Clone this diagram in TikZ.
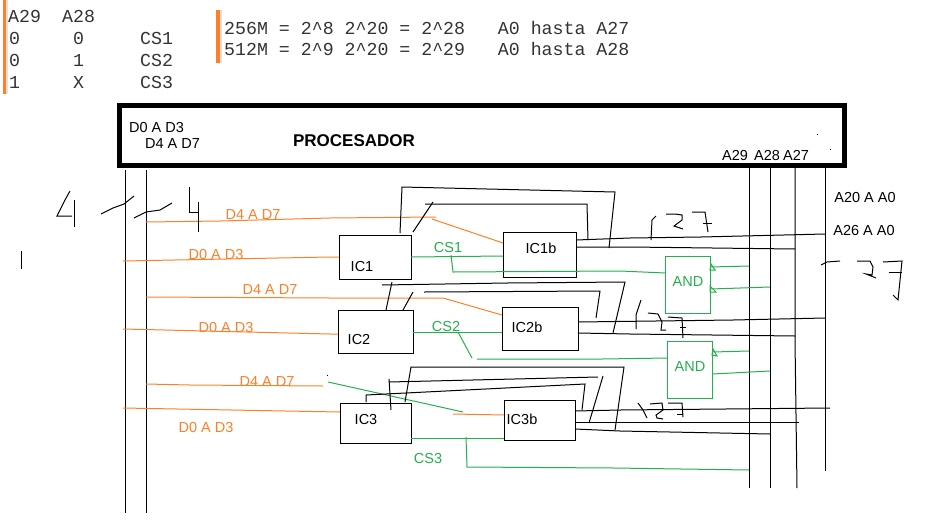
\documentclass[tikz,border=0pt]{standalone}
\usepackage{fontspec}
\setmainfont{Liberation Sans}
\setmonofont{Liberation Mono}
\definecolor{dataor}{HTML}{FF7F27}
\definecolor{csgreen}{HTML}{22B14C}
\tikzset{
  chip/.style={draw=black,line width=1pt,inner sep=0pt,outer sep=0pt},
  andgate/.style={draw=csgreen,line width=1pt,inner sep=0pt,outer sep=0pt,minimum width=45pt,minimum height=57pt},
  wire/.style={black,line width=1pt},
  dataline/.style={dataor,line width=1pt},
  csline/.style={csgreen,line width=1pt},
  sketch/.style={black,line width=1pt},
  tab/.style={inner sep=0pt,anchor=west,text=black!80,font=\fontsize{18.25}{20}\selectfont\ttfamily},
  lbl/.style={inner sep=0pt,text=black,font=\fontsize{14.5}{16}\selectfont},
  orlbl/.style={inner sep=0pt,text=dataor,font=\fontsize{14.5}{16}\selectfont},
  cslbl/.style={inner sep=0pt,text=csgreen,font=\fontsize{14.5}{16}\selectfont},
}
\begin{document}
\begin{tikzpicture}[x=1pt,y=-1pt]
    \useasboundingbox (0,0) rectangle (930,523);
    \fill [dataor] (3,0) rectangle (6,94);
    \fill [black!12] (6,0) rectangle (8,94);
    \fill [dataor] (216,10) rectangle (220,63);
    \fill [black!12] (220,10) rectangle (222,63);
    \node [tab] (h29) at (8,16) {A29};
    \node [tab] (h28) at (62,16) {A28};
    \node [tab] (r10) at (9,38) {0};
    \node [tab] (r11) at (73,38) {0};
    \node [tab] (r1c) at (140,38) {CS1};
    \node [tab] (r20) at (9,60) {0};
    \node [tab] (r21) at (73,60) {1};
    \node [tab] (r2c) at (140,60) {CS2};
    \node [tab] (r30) at (9,82) {1};
    \node [tab] (r31) at (73,82) {X};
    \node [tab] (r3c) at (140,82) {CS3};
    \node [tab] (mem256) at (224,28) {256M = 2\string^8 2\string^20 = 2\string^28~~~A0 hasta A27};
    \node [tab] (mem512) at (224,49) {512M = 2\string^9 2\string^20 = 2\string^29~~~A0 hasta A28};
    \node [draw=black,line width=5pt,inner sep=0pt,outer sep=0pt,minimum width=725pt,minimum height=60pt] (cpu) at (482,135.5) {};
    \node [lbl] (cpud0) at (156.5,128) {D0 A D3};
    \node [lbl] (cpud4) at (172.5,144) {D4 A D7};
    \node [inner sep=0pt,text=black,font=\fontsize{17}{18}\selectfont\bfseries] (cpuname) at (354,141) {PROCESADOR};
    \node [lbl] (t29) at (735,156) {A29};
    \node [lbl] (t28) at (767,156) {A28};
    \node [lbl] (t27) at (796,155) {A27};
    \node [lbl] (t20) at (865,198) {A20 A A0};
    \node [lbl] (t26) at (864,231) {A26 A A0};
    \node [chip,minimum width=72pt,minimum height=44pt] (IC1) at (375,257) {};
    \node [chip,minimum width=73pt,minimum height=45pt] (IC1b) at (539.5,254.5) {};
    \node [chip,minimum width=75pt,minimum height=43pt] (IC2) at (375.5,331.5) {};
    \node [chip,minimum width=76pt,minimum height=43pt] (IC2b) at (540,328.5) {};
    \node [chip,minimum width=71pt,minimum height=40pt] (IC3) at (375.5,423) {};
    \node [chip,minimum width=71pt,minimum height=40pt] (IC3b) at (539.5,420) {};
    \node [lbl] (IC1t) at (362,267) {IC1};
    \node [lbl] (IC1bt) at (541,248) {IC1b};
    \node [lbl] (IC2t) at (359,340) {IC2};
    \node [lbl] (IC2bt) at (527,327) {IC2b};
    \node [lbl] (IC3t) at (366,420) {IC3};
    \node [lbl] (IC3bt) at (522,419) {IC3b};
    \node [andgate] (AND1) at (688,284.5) {};
    \node [andgate] (AND2) at (690,369.5) {};
    \node [cslbl] (AND1t) at (688,282) {AND};
    \node [cslbl] (AND2t) at (690,367) {AND};
    \node [orlbl] (o1) at (253,215) {D4 A D7};
    \node [orlbl] (o2) at (216,255) {D0 A D3};
    \node [orlbl] (o3) at (270,290) {D4 A D7};
    \node [orlbl] (o4) at (226,328) {D0 A D3};
    \node [orlbl] (o5) at (267,382) {D4 A D7};
    \node [orlbl] (o6) at (206,428) {D0 A D3};
    \node [cslbl] (cs1) at (448,248) {CS1};
    \node [cslbl] (cs2) at (446,327) {CS2};
    \node [cslbl] (cs3) at (428,459) {CS3};
    \coordinate (dbusL) at (125,170);
    \coordinate (dbusR) at (146,170);
    \coordinate (bus29) at (749,168);
    \coordinate (bus28) at (770,168);
    \coordinate (bus27) at (795,168);
    \coordinate (bus20) at (825,168);
    \draw [wire] (dbusL) -- (125,513);
    \draw [wire] (dbusR) -- (146,513);
    \draw [wire] (bus29) -- (749,488);
    \draw [wire] (bus28) -- (770,488);
    \draw [wire] (bus27) -- (795,340) -- (797,488);
    \draw [wire] (bus20) -- (825,471);
    \draw [dataline] (dbusR |- 0,222) -- (220,221) -- (330,218) -- (436,217);
    \draw [dataline] (432,219) -- (IC1b.west |- 0,243);
    \draw [dataline] (123,261) -- (330,257) -- (IC1.west);
    \draw [dataline] (dbusR |- 0,297) -- (330,298) -- (443,298) -- (IC2b.west |- 0,315);
    \draw [dataline] (123,329) -- (330,334) -- (IC2.west |- 0,334);
    \draw [dataline] (dbusR |- 0,384) -- (190,385) -- (323,386);
    \draw [dataline] (123,408) -- (IC3.west |- 0,412);
    \draw [dataline] (453,414) -- (IC3b.west |- 0,415);
    \draw [csline] (IC1.east) -- (IC1b.west |- 0,256);
    \draw [csline] (451,255) -- (453,272) -- (620,271) -- (AND1.west |- 0,273);
    \draw [csline] (IC2.east |- 0,332) -- (IC2b.west |- 0,332);
    \draw [csline] (458,332) -- (472,358);
    \draw [csline] (477,359) -- (602,359) -- (AND2.west |- 0,358);
    \draw [csline] (IC3.east |- 0,438) -- (IC3b.west |- 0,438);
    \draw [csline] (466,437) -- (467,467) -- (614,468) -- (bus29 |- 0,470);
    \draw [csline] (328,382) -- (463,412);
    \fill [black] (326.5,374.5) rectangle (327.5,375.5);
    \draw [csline] (AND1.east |- 0,267) -- (bus29 |- 0,266);
    \draw [csline] (AND1.east |- 0,289) -- (bus28 |- 0,287);
    \draw [csline] (AND2.east |- 0,352) -- (bus29 |- 0,351);
    \draw [csline] (AND2.east |- 0,374) -- (bus28 |- 0,371);
    \draw [csline] (711,264) -- (715,270) -- (710,270) -- cycle;
    \draw [csline] (710,286) -- (716,292) -- (710,292) -- cycle;
    \draw [csline] (713,349) -- (717,356) -- (712,355) -- cycle;
    \draw [wire] (IC1b.east |- 0,240) -- (630,238) -- (701,237) -- (bus20 |- 0,234);
    \draw [wire] (IC1b.east |- 0,247) -- (630,247) -- (bus27 |- 0,249);
    \draw [wire] (400,233) -- (402,187) -- (615,192) -- (609,248);
    \draw [wire] (413,232) -- (433,202);
    \draw [wire] (425,204) -- (587,204) -- (588,240);
    \draw [wire] (392,282) -- (386,310);
    \draw [wire] (382,285) -- (507,283) -- (625,282) -- (613,333);
    \draw [wire] (413,292) -- (403,310);
    \draw [wire] (424,292) -- (600,291) -- (596,318);
    \draw [wire] (IC2b.east |- 0,322) -- (733,320) -- (bus20 |- 0,318);
    \draw [wire] (IC2b.east |- 0,333) -- (630,334) -- (bus27 |- 0,336);
    \draw [wire] (405,402) -- (411,367) -- (624,367) -- (615,430);
    \draw [wire] (389,379) -- (391,410);
    \draw [wire] (389,382) -- (598,377);
    \draw [wire] (603,376) -- (589,423);
    \draw [wire] (366,402) -- (366,395) -- (585,384) -- (582,410);
    \draw [wire] (IC3b.east |- 0,411) -- (620,410) -- (830,408);
    \draw [wire] (IC3b.east |- 0,422) -- (799,422);
    \draw [wire] (IC3b.east |- 0,429) -- (620,431) -- (bus28 |- 0,434);
    \draw [sketch] (70,191) -- (65,200) -- (57,216) -- (72,216);
    \draw [sketch] (74,200) -- (74,227);
    \draw [sketch] (101,214) -- (113,208) -- (124,204) -- (134,196);
    \draw [sketch] (134,218) -- (146,212) -- (160,210) -- (172,203);
    \draw [sketch] (189,187) -- (189,212) -- (198,212);
    \draw [sketch] (198,202) -- (198,232);
    \draw [sketch] (21,251) -- (21,269);
    \draw [sketch] (651,240) -- (652,220) -- (656,216);
    \draw [sketch] (666,214) -- (675,214) -- (682,215) -- (682,220) -- (674,226) -- (683,229);
    \draw [sketch] (692,212) -- (705,212) -- (708,232);
    \draw [sketch] (703,223) -- (712,223);
    \draw [sketch] (821,265) -- (827,262) -- (840,261);
    \draw [sketch] (857,261) -- (870,261) -- (873,267) -- (872,275) -- (866,274) -- (876,278);
    \draw [sketch] (883,262) -- (902,261) -- (898,300) -- (893,295);
    \draw [sketch] (889,272) -- (902,272);
    \draw [sketch] (641,300) -- (636,315) -- (636,329);
    \draw [sketch] (648,313) -- (658,314) -- (662,322) -- (661,330) -- (666,330);
    \draw [sketch] (668,317) -- (682,318) -- (683,338);
    \draw [sketch] (680,327) -- (686,327);
    \draw [sketch] (638,403) -- (643,410) -- (647,418);
    \draw [sketch] (650,404) -- (662,403) -- (663,410) -- (656,415) -- (657,418) -- (663,419);
    \draw [sketch] (668,403) -- (682,403) -- (683,417);
    \draw [sketch] (677,414) -- (683,414);
    \fill [black] (816.5,133.5) rectangle (818,134.5);
    \fill [black] (829.5,148.5) rectangle (831,149.5);
\end{tikzpicture}
\end{document}
